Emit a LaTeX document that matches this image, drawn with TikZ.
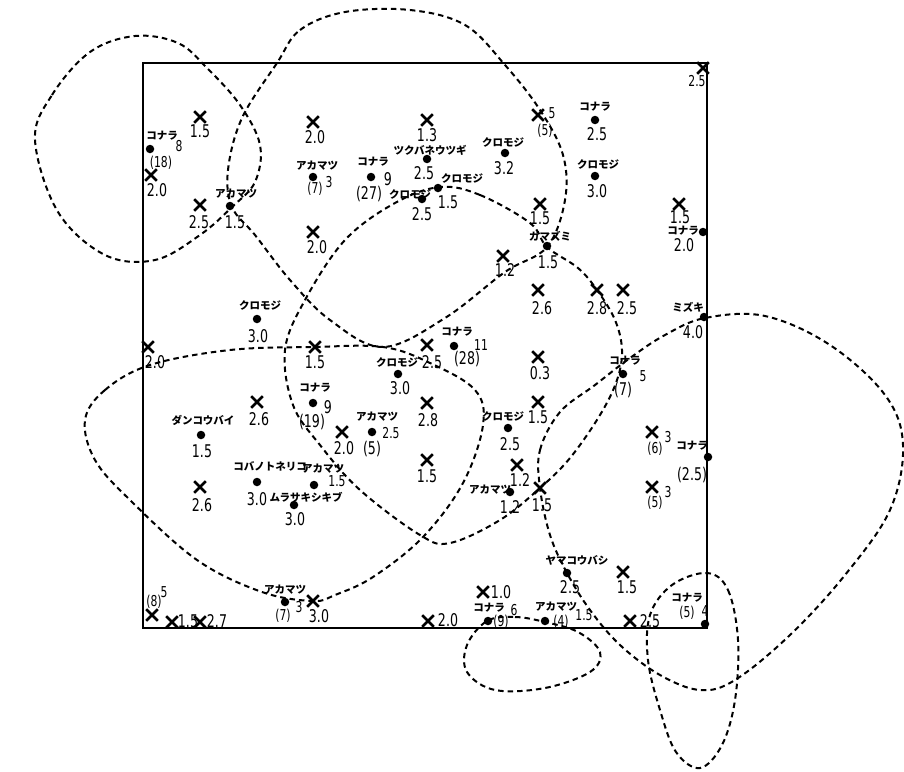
\documentclass[tikz,border=0pt]{standalone}
\usepackage{fontspec}
\newfontfamily\cjk{Noto Sans CJK JP}
\newfontfamily\numf[FakeStretch=0.72]{DejaVu Sans}
\usetikzlibrary{shapes.misc}
\tikzset{
  frame/.style={line width=2.2pt},
  zone/.style={line width=2pt, dash pattern=on 5.5pt off 4pt},
  xm/.style={draw, cross out, line width=2.6pt, minimum size=9pt, inner sep=0pt},
  dt/.style={circle, fill, inner sep=0pt, minimum size=8.5pt},
  kt/.style={font=\cjk\bfseries\fontsize{10.5}{11}\selectfont, inner sep=0pt},
  nm/.style={font=\numf\fontsize{17.5}{18}\selectfont, inner sep=0pt},
  sm/.style={font=\numf\fontsize{15}{15}\selectfont, inner sep=0pt},
}
\begin{document}
\begin{tikzpicture}[x=1pt,y=-1pt]
\useasboundingbox (0,0) rectangle (904,771);
% frame
\draw[frame] (143,63) rectangle (707,628);
% zones
\draw[zone] plot[smooth cycle, tension=0.6] coordinates {(35,140) (52,95) (90,52) (135,36) (178,43) (207,68) (240,105) (260,145) (255,182) (232,207) (200,235) (155,260) (105,255) (58,212)};
\draw[zone] plot[smooth cycle, tension=0.6] coordinates {(277,63) (300,30) (345,12) (410,10) (465,25) (505,65) (540,110) (563,155) (565,200) (547,247) (505,272) (445,318) (383,347) (330,320) (290,280) (255,235) (232,207) (228,170) (242,118)};
\draw[zone] plot[smooth cycle, tension=0.6] coordinates {(440,187) (480,195) (530,223) (547,247) (578,268) (597,290) (615,320) (622,350) (617,380) (600,415) (570,458) (540,488) (500,520) (450,543) (420,535) (360,490) (320,445) (293,405) (285,350) (305,300) (345,240) (395,203)};
\draw[zone] plot[smooth cycle, tension=0.6] coordinates {(540,488) (540,450) (560,412) (595,385) (630,358) (665,335) (705,318) (765,316) (830,345) (885,395) (903,445) (890,510) (845,575) (790,635) (735,680) (700,690) (660,675) (620,645) (590,610) (567,573) (550,535)};
\draw[zone] plot[smooth cycle, tension=0.6] coordinates {(85,420) (105,390) (150,365) (230,350) (313,347) (383,347) (430,363) (475,390) (483,425) (463,483) (423,537) (373,577) (335,595) (313,601) (262,592) (197,560) (130,500) (95,460)};
\draw[zone] plot[smooth cycle, tension=0.6] coordinates {(487,621) (515,617) (545,622) (578,632) (600,652) (590,672) (545,688) (495,690) (467,672) (467,645)};
\draw[zone] plot[smooth cycle, tension=0.6] coordinates {(707,573) (728,590) (738,640) (735,700) (722,745) (700,768) (676,752) (660,710) (648,660) (650,615) (672,585)};
% crosses
\node[xm] (x1) at (200,117) {}; \node[nm] (x1a) at (200,131) {1.5};
\node[xm] (x2) at (151,175) {}; \node[nm] (x2a) at (157,190) {2.0};
\node[xm] (x3) at (200,205) {}; \node[nm] (x3a) at (199,222) {2.5};
\node[xm] (x4) at (313,122) {}; \node[nm] (x4a) at (315,137) {2.0};
\node[xm] (x5) at (427,120) {}; \node[nm] (x5a) at (427,135) {1.3};
\node[xm] (x6) at (538,115) {}; \node[sm] (x6a) at (552,113) {5}; \node[sm] (x6b) at (545,131) {(5)};
\node[xm] (x7) at (313,232) {}; \node[nm] (x7a) at (317,247) {2.0};
\node[xm] (x8) at (540,204) {}; \node[nm] (x8a) at (540,218) {1.5};
\node[xm] (x9) at (679,204) {}; \node[nm] (x9a) at (680,217) {1.5};
\node[xm] (x10) at (703,68) {}; \node[sm] (x10a) at (697,81) {2.5};
\node[xm] (x11) at (503,256) {}; \node[nm] (x11a) at (505,270) {1.2};
\node[xm] (x12) at (538,290) {}; \node[nm] (x12a) at (542,308) {2.6};
\node[xm] (x13) at (597,290) {}; \node[nm] (x13a) at (597,308) {2.8};
\node[xm] (x14) at (623,290) {}; \node[nm] (x14a) at (627,308) {2.5};
\node[xm] (x15) at (148,347) {}; \node[nm] (x15a) at (155,362) {2.0};
\node[xm] (x16) at (315,347) {}; \node[nm] (x16a) at (315,362) {1.5};
\node[xm] (x17) at (427,345) {}; \node[nm] (x17a) at (432,362) {2.5};
\node[xm] (x18) at (538,357) {}; \node[nm] (x18a) at (540,373) {0.3};
\node[xm] (x19) at (257,402) {}; \node[nm] (x19a) at (259,419) {2.6};
\node[xm] (x20) at (427,403) {}; \node[nm] (x20a) at (428,420) {2.8};
\node[xm] (x21) at (538,402) {}; \node[nm] (x21a) at (538,417) {1.5};
\node[xm] (x22) at (342,432) {}; \node[nm] (x22a) at (344,448) {2.0};
\node[xm] (x23) at (427,460) {}; \node[nm] (x23a) at (427,476) {1.5};
\node[xm] (x24) at (517,465) {}; \node[nm] (x24a) at (520,480) {1.2};
\node[xm] (x25) at (540,488) {}; \node[nm] (x25a) at (542,505) {1.5};
\node[xm] (x26) at (200,487) {}; \node[nm] (x26a) at (202,505) {2.6};
\node[xm] (x27) at (652,432) {}; \node[sm] (x27a) at (668,437) {3}; \node[sm] (x27b) at (655,449) {(6)};
\node[xm] (x28) at (652,487) {}; \node[sm] (x28a) at (668,492) {3}; \node[sm] (x28b) at (655,503) {(5)};
\node[xm] (x29) at (623,572) {}; \node[nm] (x29a) at (627,587) {1.5};
\node[xm] (x30) at (152,615) {}; \node[sm] (x30a) at (154,602) {(8)}; \node[sm] (x30b) at (164,592) {5};
\node[xm] (x31) at (172,622) {}; \node[nm] (x31a) at (188,621) {1.5};
\node[xm] (x32) at (200,622) {}; \node[nm] (x32a) at (217,621) {2.7};
\node[xm] (x33) at (313,601) {}; \node[nm] (x33a) at (319,616) {3.0};
\node[xm] (x34) at (428,621) {}; \node[nm] (x34a) at (448,620) {2.0};
\node[xm] (x35) at (483,592) {}; \node[nm] (x35a) at (501,592) {1.0};
\node[xm] (x36) at (630,621) {}; \node[nm] (x36a) at (650,621) {2.5};
% dots
\node[dt] (d1) at (150,149) {}; \node[kt] (d1a) at (162,136) {コナラ}; \node[sm] (d1b) at (179,146) {8}; \node[sm] (d1c) at (161,163) {(18)};
\node[dt] (d2) at (230,206) {}; \node[kt] (d2a) at (236,194) {アカマツ}; \node[nm] (d2b) at (235,222) {1.5};
\node[dt] (d3) at (313,177) {}; \node[kt] (d3a) at (317,166) {アカマツ}; \node[sm] (d3b) at (329,182) {3}; \node[sm] (d3c) at (315,189) {(7)};
\node[dt] (d4) at (371,177) {}; \node[kt] (d4a) at (373,162) {コナラ}; \node[nm] (d4b) at (388,179) {9}; \node[nm] (d4c) at (369,194) {(27)};
\node[dt] (d5) at (427,159) {}; \node[kt] (d5a) at (430,150) {ツクバネウツギ}; \node[nm] (d5b) at (424,173) {2.5};
\node[dt] (d6) at (438,188) {}; \node[kt] (d6a) at (462,178) {クロモジ}; \node[nm] (d6b) at (448,202) {1.5};
\node[dt] (d7) at (422,199) {}; \node[kt] (d7a) at (410,194) {クロモジ}; \node[nm] (d7b) at (422,214) {2.5};
\node[dt] (d8) at (505,153) {}; \node[kt] (d8a) at (503,142) {クロモジ}; \node[nm] (d8b) at (504,168) {3.2};
\node[dt] (d9) at (595,120) {}; \node[kt] (d9a) at (595,107) {コナラ}; \node[nm] (d9b) at (597,134) {2.5};
\node[dt] (d10) at (595,176) {}; \node[kt] (d10a) at (598,164) {クロモジ}; \node[nm] (d10b) at (597,191) {3.0};
\node[dt] (d11) at (703,232) {}; \node[kt] (d11a) at (683,231) {コナラ}; \node[nm] (d11b) at (684,245) {2.0};
\node[dt] (d12) at (547,246) {}; \node[kt] (d12a) at (550,236) {ガマズミ}; \node[nm] (d12b) at (548,262) {1.5};
\node[dt] (d13) at (704,317) {}; \node[kt] (d13a) at (688,307) {ミズキ}; \node[nm] (d13b) at (693,332) {4.0};
\node[dt] (d14) at (257,319) {}; \node[kt] (d14a) at (260,305) {クロモジ}; \node[nm] (d14b) at (258,336) {3.0};
\node[dt] (d15) at (454,346) {}; \node[kt] (d15a) at (457,332) {コナラ}; \node[sm] (d15b) at (481,345) {11}; \node[nm] (d15c) at (467,359) {(28)};
\node[dt] (d16) at (398,374) {}; \node[kt] (d16a) at (397,362) {クロモジ}; \node[nm] (d16b) at (400,388) {3.0};
\node[dt] (d17) at (623,374) {}; \node[kt] (d17a) at (625,361) {コナラ}; \node[sm] (d17b) at (643,376) {5}; \node[nm] (d17c) at (623,390) {(7)};
\node[dt] (d18) at (313,403) {}; \node[kt] (d18a) at (315,388) {コナラ}; \node[nm] (d18b) at (328,407) {9}; \node[nm] (d18c) at (312,422) {(19)};
\node[dt] (d19) at (372,432) {}; \node[kt] (d19a) at (377,417) {アカマツ}; \node[sm] (d19b) at (391,433) {2.5}; \node[nm] (d19c) at (372,449) {(5)};
\node[dt] (d20) at (508,428) {}; \node[kt] (d20a) at (503,416) {クロモジ}; \node[nm] (d20b) at (510,444) {2.5};
\node[dt] (d21) at (201,435) {}; \node[kt] (d21a) at (203,420) {ダンコウバイ}; \node[nm] (d21b) at (202,451) {1.5};
\node[dt] (d22) at (257,482) {}; \node[kt] (d22a) at (270,466) {コバノトネリコ}; \node[nm] (d22b) at (257,499) {3.0};
\node[dt] (d23) at (314,485) {}; \node[kt] (d23a) at (323,469) {アカマツ}; \node[sm] (d23b) at (337,481) {1.5};
\node[dt] (d24) at (294,505) {}; \node[kt] (d24a) at (306,497) {ムラサキシキブ}; \node[nm] (d24b) at (295,519) {3.0};
\node[dt] (d25) at (510,492) {}; \node[kt] (d25a) at (490,490) {アカマツ}; \node[nm] (d25b) at (510,507) {1.2};
\node[dt] (d26) at (708,457) {}; \node[kt] (d26a) at (692,446) {コナラ}; \node[nm] (d26b) at (692,475) {(2.5)};
\node[dt] (d27) at (567,573) {}; \node[kt] (d27a) at (577,560) {ヤマコウバシ}; \node[nm] (d27b) at (570,587) {2.5};
\node[dt] (d28) at (285,602) {}; \node[kt] (d28a) at (285,590) {アカマツ}; \node[sm] (d28b) at (299,607) {3}; \node[sm] (d28c) at (283,616) {(7)};
\node[dt] (d29) at (488,621) {}; \node[kt] (d29a) at (489,608) {コナラ}; \node[sm] (d29b) at (501,622) {(9)}; \node[sm] (d29c) at (514,610) {6};
\node[dt] (d30) at (545,621) {}; \node[kt] (d30a) at (556,607) {アカマツ}; \node[sm] (d30b) at (561,622) {(4)}; \node[sm] (d30c) at (584,615) {1.5};
\node[dt] (d31) at (705,624) {}; \node[kt] (d31a) at (687,598) {コナラ}; \node[sm] (d31b) at (687,613) {(5)}; \node[sm] (d31c) at (705,611) {4};
\end{tikzpicture}
\end{document}
